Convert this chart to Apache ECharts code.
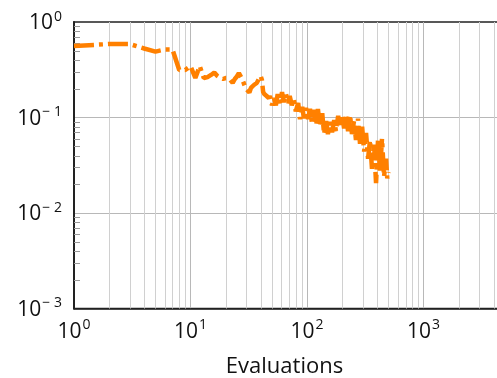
<!DOCTYPE html>
<html>
<head>
<meta charset="utf-8">
<script src="https://cdn.jsdelivr.net/npm/echarts@6/dist/echarts.min.js"></script>
<style>
  html, body { margin: 0; padding: 0; overflow: hidden; background: #fff; }
  #main { width: 505px; height: 378px; }
</style>
</head>
<body>
<div id="main"></div>
<script>
// evaluations (x) and best objective value (y)
const evaluations = [
  1, 2, 3, 4, 5, 6, 7, 8, 9, 10,
  11, 12, 13, 14, 15, 16, 17, 18, 19, 20, 21, 22, 23, 24, 25, 26, 27, 28, 29, 30,
  31, 32, 33, 34, 35, 36, 37, 38, 39, 40, 41, 42, 43, 44, 45, 46, 47,
  48, 50, 52, 54, 56, 59, 61, 63, 66, 69, 71, 74, 77, 80, 84, 87, 91, 94, 98, 102,
  106, 110, 115, 120, 124, 129, 135, 140, 146, 151, 158, 164, 171, 177, 185, 192,
  200, 208, 216, 225, 234, 243, 253, 263, 274, 285, 297, 309, 321, 334, 347, 361,
  376, 391, 407, 423, 440, 458, 477, 488, 500
];
const bestValue = [
  0.56, 0.588, 0.588, 0.528, 0.49, 0.515, 0.515, 0.314, 0.314, 0.346,
  0.259, 0.346, 0.259, 0.265, 0.279, 0.296, 0.272, 0.259, 0.253, 0.259, 0.259, 0.247, 0.230, 0.253, 0.269, 0.292, 0.2995, 0.247, 0.219, 0.199,
  0.190, 0.183, 0.204, 0.214, 0.219, 0.224, 0.230, 0.235, 0.259, 0.272, 0.247, 0.185, 0.176, 0.172, 0.168, 0.164, 0.160,
  0.168, 0.134, 0.160, 0.134, 0.176, 0.141, 0.185, 0.145, 0.176, 0.141, 0.168, 0.134, 0.156, 0.116, 0.142, 0.096, 0.129, 0.098, 0.126, 0.096,
  0.123, 0.089, 0.120, 0.083, 0.123, 0.081, 0.111, 0.067, 0.092, 0.067, 0.090, 0.070, 0.094, 0.072, 0.104, 0.081,
  0.106, 0.077, 0.104, 0.072, 0.106, 0.067, 0.092, 0.058, 0.097, 0.053, 0.080, 0.044, 0.069, 0.037, 0.058, 0.029,
  0.052, 0.0205, 0.060, 0.027, 0.060, 0.024, 0.037, 0.023, 0.0269
];
const xRange = [1, 5000];
const yRange = [0.001, 1];
const xName = "Evaluations";

const font = "Open Sans";
const textColor = "#111";

function minorValues(lo, hi, max) {
  const out = [];
  for (let e = lo; e < hi; e++) {
    for (let k = 2; k <= 9; k++) {
      const v = k * Math.pow(10, e);
      if (v < max) out.push(v);
    }
  }
  return out;
}
const xMinor = minorValues(0, 4, xRange[1]);
const yMinor = minorValues(-3, 0, yRange[1]);

function powLabel(v) {
  const e = Math.round(Math.log10(v));
  const s = e < 0 ? "\u2212 " + (-e) : String(e);
  return "{b|10}{s|" + s + "}";
}
const labelRich = {
  b: { fontFamily: font, fontSize: 21, color: textColor, lineHeight: 24, verticalAlign: "bottom" },
  s: { fontFamily: font, fontSize: 14, color: textColor, lineHeight: 16, verticalAlign: "top", padding: [0, 0, 0, 1] },
};

const chart = echarts.init(document.getElementById("main"));
chart.setOption({
  animation: false,
  grid: {
    left: 74,
    right: 0,
    top: 22,
    bottom: 69.5,
    show: true,
    borderColor: "#222",
    borderWidth: 1.5,
    outerBoundsMode: "none",
  },
  xAxis: {
    type: "log",
    logBase: 10,
    min: xRange[0],
    max: xRange[1],
    name: xName,
    nameLocation: "middle",
    nameGap: 47,
    nameTextStyle: { fontFamily: font, fontSize: 22, color: textColor, padding: [0, 10, 0, 0] },
    axisLine: { lineStyle: { color: "#222", width: 1.5 } },
    axisTick: { show: false },
    axisLabel: { formatter: powLabel, rich: labelRich, margin: 10, showMaxLabel: false },
    splitLine: { show: true, showMinLine: false, showMaxLine: false, lineStyle: { color: "#b8b8b8", width: 1 } },
  },
  yAxis: {
    type: "log",
    logBase: 10,
    min: yRange[0],
    max: yRange[1],
    axisLine: { show: true, lineStyle: { color: "#222", width: 2 } },
    axisTick: { show: false },
    axisLabel: { formatter: powLabel, rich: labelRich, margin: 12 },
    splitLine: { show: true, showMinLine: false, showMaxLine: false, lineStyle: { color: "#b8b8b8", width: 1 } },
  },
  series: [
    {
      // minor vertical grid lines at 2..9 x 10^k
      type: "custom",
      silent: true,
      z: 1,
      data: xMinor.map(v => [v, yRange[0]]),
      renderItem: (params, api) => {
        const v = api.value(0);
        const p0 = api.coord([v, yRange[0]]);
        const p1 = api.coord([v, yRange[1]]);
        const x = Math.round(p0[0]) + 0.5;
        return {
          type: "line",
          shape: { x1: x, y1: p0[1], x2: x, y2: p1[1] },
          style: { stroke: "#d0d0d0", lineWidth: 1 },
        };
      },
    },
    {
      // minor ticks on the y axis, pointing inward
      type: "custom",
      silent: true,
      z: 2,
      data: yMinor.map(v => [xRange[0], v]),
      renderItem: (params, api) => {
        const p = api.coord([xRange[0], api.value(1)]);
        const y = Math.round(p[1]) + 0.5;
        return {
          type: "line",
          shape: { x1: p[0], y1: y, x2: p[0] + 6, y2: y },
          style: { stroke: "#999", lineWidth: 1 },
        };
      },
    },
    {
      type: "line",
      z: 5,
      symbol: "none",
      data: evaluations.map((x, i) => [x, bestValue[i]]),
      lineStyle: { color: "#ff8000", width: 4.5, type: [20, 5, 4, 5], cap: "butt" },
    },
  ],
});
</script>
</body>
</html>
